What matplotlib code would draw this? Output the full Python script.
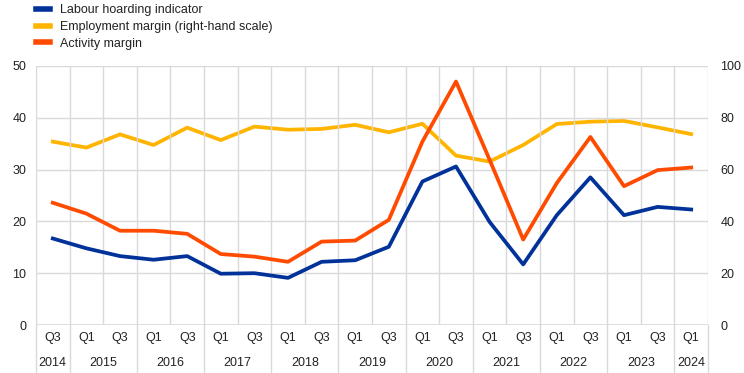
import matplotlib
matplotlib.use("Agg")
import matplotlib.pyplot as plt
from matplotlib.lines import Line2D
import matplotlib.transforms as mtransforms
import numpy as np

plt.rcParams['font.family'] = ['Liberation Sans', 'DejaVu Sans']

quarters = ["Q3", "Q1", "Q3", "Q1", "Q3", "Q1", "Q3", "Q1", "Q3", "Q1",
            "Q3", "Q1", "Q3", "Q1", "Q3", "Q1", "Q3", "Q1", "Q3", "Q1"]
years = ["2014", "2015", "2016", "2017", "2018", "2019", "2020", "2021", "2022", "2023", "2024"]

labour_hoarding = [16.7, 14.8, 13.3, 12.6, 13.3, 9.9, 10.0, 9.1, 12.2, 12.5,
                   15.1, 27.7, 30.6, 19.9, 11.7, 21.2, 28.5, 21.2, 22.8, 22.3]
activity_margin = [23.6, 21.5, 18.2, 18.2, 17.6, 13.7, 13.2, 12.2, 16.1, 16.3,
                   20.3, 35.4, 47.0, 31.9, 16.5, 27.4, 36.3, 26.8, 29.9, 30.4]
employment_margin = [70.8, 68.5, 73.6, 69.5, 76.2, 71.4, 76.6, 75.4, 75.7, 77.3,
                     74.4, 77.7, 65.4, 63.1, 69.5, 77.6, 78.5, 78.8, 76.3, 73.7]

BLUE = "#003299"
YELLOW = "#FFB400"
ORANGE = "#FF4B00"
GRID = "#d9d9d9"
TXT = "#222222"

fig = plt.figure(figsize=(7.44, 3.73), dpi=100)
ax = fig.add_axes([36/744, 1-325/373, (708-36)/744, (325-66)/373])
ax2 = ax.twinx()

n = len(quarters)
x = np.arange(n)

ax2.plot(x, employment_margin, color=YELLOW, lw=2.7, solid_joinstyle='round', zorder=3)
ax.plot(x, labour_hoarding, color=BLUE, lw=2.7, solid_joinstyle='round', zorder=3)
ax.plot(x, activity_margin, color=ORANGE, lw=2.7, solid_joinstyle='round', zorder=3)

ax.set_zorder(ax2.get_zorder() + 1)
ax.patch.set_visible(False)

ax.set_xlim(-0.5, n - 0.5)
ax.set_ylim(0, 50)
ax2.set_ylim(0, 100)
ax.set_yticks(np.arange(0, 51, 10))
ax2.set_yticks(np.arange(0, 101, 20))

for a in (ax, ax2):
    for s in a.spines.values():
        s.set_visible(False)
    a.tick_params(axis='y', length=0, labelsize=9, colors=TXT)
ax.tick_params(axis='y', pad=7)
ax2.tick_params(axis='y', pad=9)

# grid
ax.set_xticks(np.arange(-0.5, n, 1.0))
ax.set_xticklabels([])
ax.tick_params(axis='x', length=0)
ax.grid(True, color=GRID, lw=1.0, zorder=0)
ax.set_axisbelow(True)
ax.axhline(0, color=GRID, lw=1.2, zorder=1)

trans = mtransforms.blended_transform_factory(ax.transData, ax.transAxes)
for i, q in enumerate(quarters):
    ax.text(i, -0.05, q, transform=trans, ha='center', va='center', fontsize=9, color=TXT)

# year groups
cur = int(years[0])
groups = []
for i, q in enumerate(quarters):
    if q == "Q1" and i > 0:
        cur += 1
    groups.append(cur)
for yl in years:
    idx = [i for i, g in enumerate(groups) if g == int(yl)]
    cx = (min(idx) + max(idx)) / 2
    ax.text(cx, -0.145, yl, transform=trans, ha='center', va='center', fontsize=9, color=TXT)

# separators below axis
seps = [-0.5] + [i - 0.5 for i, q in enumerate(quarters) if q == "Q1" and i > 0] + [n - 0.5]
for s in seps:
    ax.add_line(Line2D([s, s], [0, -0.19], transform=trans, color=GRID, lw=1.0, clip_on=False))

handles = [Line2D([], [], color=BLUE, lw=4),
           Line2D([], [], color=YELLOW, lw=4),
           Line2D([], [], color=ORANGE, lw=4)]
labels = ["Labour hoarding indicator", "Employment margin (right-hand scale)", "Activity margin"]
fig.legend(handles, labels, loc='upper left', bbox_to_anchor=(0.038, 1.009), frameon=False,
           fontsize=9, handlelength=1.1, handletextpad=0.8, labelspacing=0.38, borderaxespad=0.2,
           labelcolor=TXT)

fig.savefig("out.png", dpi=100)
